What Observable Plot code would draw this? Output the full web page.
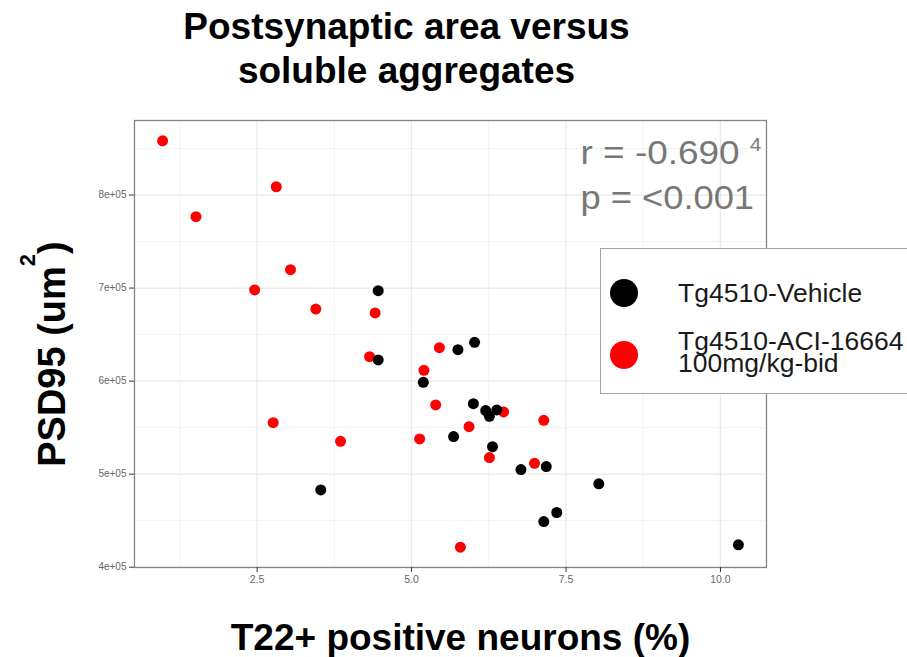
<!DOCTYPE html>
<html>
<head>
<meta charset="utf-8">
<script src="https://cdn.jsdelivr.net/npm/d3@7"></script>
<script src="https://cdn.jsdelivr.net/npm/@observablehq/plot@0.6"></script>
<style>
  html, body { margin: 0; padding: 0; background: #fff; }
  body { font-family: "Liberation Sans", Arial, sans-serif; }
  #wrap { position: relative; width: 907px; height: 657px; overflow: hidden; background: #fff; }
  #title { height: 100px; box-sizing: border-box; padding-top: 5px; width: 813px;
           text-align: center; font-weight: bold; font-size: 37px; line-height: 44px; color: #000; }
  #chart svg { display: block; }
  #legend { position: absolute; left: 600px; top: 248px; width: 330px; height: 144px;
            border: 1px solid #a3a3a3; background: #fff; }
  #legend .swatch { position: absolute; width: 28px; height: 28px; border-radius: 50%; }
  #legend .lab { position: absolute; left: 77px; font-size: 26.5px; line-height: 22px;
                 color: #1a1a1a; white-space: pre; }
</style>
</head>
<body>
<div id="wrap">
  <div id="title"></div>
  <div id="chart"></div>
  <div id="legend"></div>
</div>
<script>
// Chart text
const titleLines = ["Postsynaptic area versus", "soluble aggregates"];
const xTitle = "T22+ positive neurons (%)";
const yTitleParts = ["PSD95 (um", "2", ")"];
const statLines = ["r = -0.690", "p = <0.001"];
const statSup = "4";

// Groups and colours
const groupNames = ["Tg4510-Vehicle", "Tg4510-ACI-16664\n100mg/kg-bid"];
const groupColors = ["#000000", "#ff0000"];

// Tg4510-Vehicle: T22+ positive neurons (%) and PSD95 area (um^2)
const vehicleX = [4.46, 5.75, 6.02, 4.46, 5.19, 6.00, 6.20, 6.38, 6.26, 5.68, 6.31, 6.77, 7.18, 3.53, 8.03, 7.14, 7.35, 10.29];
const vehicleY = [697200, 633800, 641700, 622800, 598700, 575800, 568300, 569100, 562200, 540400, 529600, 504900, 508200, 483100, 489600, 449100, 458800, 424100];

// Tg4510-ACI-16664 100mg/kg-bid
const treatedX = [0.97, 1.51, 2.81, 3.04, 2.46, 3.45, 4.41, 5.45, 4.32, 5.20, 5.39, 6.49, 7.14, 2.76, 5.93, 3.85, 5.13, 6.26, 6.99, 5.79];
const treatedY = [858300, 776700, 808900, 719800, 698000, 677500, 673300, 636000, 626300, 611600, 574400, 566900, 557900, 555400, 551100, 535300, 537900, 517800, 511700, 421500];

// Axis ticks and labels
const xTicks = [2.5, 5, 7.5, 10];
const xTickLabels = ["2.5", "5.0", "7.5", "10.0"];
const xMinorTicks = [1.25, 3.75, 6.25, 8.75];
const yTicks = [400000, 500000, 600000, 700000, 800000];
const yTickLabels = ["4e+05", "5e+05", "6e+05", "7e+05", "8e+05"];
const yMinorTicks = [450000, 550000, 650000, 750000, 850000];

const xDomain = [0.515, 10.745];
const yDomain = [399700, 880100];

const vehicle = vehicleX.map((x, i) => ({x, y: vehicleY[i]}));
const treated = treatedX.map((x, i) => ({x, y: treatedY[i]}));
const xLabelOf = new Map(xTicks.map((t, i) => [t, xTickLabels[i]]));
const yLabelOf = new Map(yTicks.map((t, i) => [t, yTickLabels[i]]));

// Title
const title = document.getElementById("title");
titleLines.forEach(line => {
  const d = document.createElement("div");
  d.textContent = line;
  title.appendChild(d);
});

const font = "'Liberation Sans', Arial, sans-serif";

const plot = Plot.plot({
  width: 907,
  height: 557,
  marginTop: 20,
  marginLeft: 134,
  marginRight: 141,
  marginBottom: 90,
  style: {fontFamily: font, background: "white"},
  x: {domain: xDomain},
  y: {domain: yDomain},
  marks: [
    Plot.gridX(xMinorTicks, {stroke: "#f1f1f1", strokeOpacity: 1, strokeWidth: 0.9}),
    Plot.gridY(yMinorTicks, {stroke: "#f1f1f1", strokeOpacity: 1, strokeWidth: 0.9}),
    Plot.gridX(xTicks, {stroke: "#e9e9e9", strokeOpacity: 1, strokeWidth: 1.3}),
    Plot.gridY(yTicks, {stroke: "#e9e9e9", strokeOpacity: 1, strokeWidth: 1.3}),
    Plot.dot(treated, {x: "x", y: "y", r: 5.5, fill: groupColors[1]}),
    Plot.dot(vehicle, {x: "x", y: "y", r: 5.5, fill: groupColors[0]}),
    Plot.frame({stroke: "#858585", strokeWidth: 1.3}),
    Plot.axisX(xTicks, {tickFormat: d => xLabelOf.get(d), tickSize: 5, tickPadding: 3,
      fontSize: 10.5, stroke: "#333", fill: "#666", label: null}),
    Plot.axisY(yTicks, {tickFormat: d => yLabelOf.get(d), tickSize: 5, tickPadding: 3,
      fontSize: 10, stroke: "#333", fill: "#666", label: null}),
    Plot.text([xTitle], {text: d => d, frameAnchor: "bottom", textAnchor: "middle", lineAnchor: "bottom",
      dx: 10, dy: 82, fontSize: 37, fontWeight: "bold", fill: "#000"}),
    Plot.text([yTitleParts.join("")], {text: d => d, frameAnchor: "left", textAnchor: "middle",
      lineAnchor: "bottom", rotate: -90, dx: -70, dy: 10, fontSize: 38, fontWeight: "bold", fill: "#000"}),
    Plot.text([statLines[0] + " " + statSup], {text: d => d, frameAnchor: "top-left", textAnchor: "start",
      lineAnchor: "bottom", dx: 446, dy: 43, fontSize: 33, fill: "#777"}),
    Plot.text([statLines[1]], {text: d => d, frameAnchor: "top-left", textAnchor: "start",
      lineAnchor: "bottom", dx: 446, dy: 88, fontSize: 33, fill: "#777"})
  ]
});
document.getElementById("chart").appendChild(plot);

// Superscripts and wide annotation lettering
function widen(el, s) {
  const t = el.getAttribute("transform");
  if (t) el.setAttribute("transform", t + ` scale(${s},1)`);
  else {
    const x = +el.getAttribute("x") || 0, y = +el.getAttribute("y") || 0;
    el.removeAttribute("x"); el.removeAttribute("y");
    el.setAttribute("transform", `translate(${x},${y}) scale(${s},1)`);
  }
}
d3.select(plot).selectAll("text").each(function() {
  const el = d3.select(this);
  const txt = this.textContent;
  if (txt === yTitleParts.join("")) {
    el.text(null);
    el.append("tspan").text(yTitleParts[0]);
    el.append("tspan").attr("dy", -30).attr("font-size", 22).text(yTitleParts[1]);
    el.append("tspan").attr("dy", 30).text(yTitleParts[2]);
  } else if (txt === statLines[0] + " " + statSup) {
    el.text(null);
    el.append("tspan").text(statLines[0] + " ");
    el.append("tspan").attr("dy", -13).attr("font-size", 18).text(statSup);
    widen(this, 1.12);
  } else if (txt === statLines[1]) {
    widen(this, 1.1);
  }
});

// Legend
const legend = document.getElementById("legend");
const swatchTops = [293 - 14 - 249, 355 - 14 - 249];
const labelTops = [32.5, 80.8];
groupNames.forEach((name, i) => {
  const sw = document.createElement("span");
  sw.className = "swatch";
  sw.style.left = (624 - 14 - 601) + "px";
  sw.style.top = swatchTops[i] + "px";
  sw.style.background = groupColors[i];
  legend.appendChild(sw);
  const lab = document.createElement("div");
  lab.className = "lab";
  lab.style.top = labelTops[i] + "px";
  lab.textContent = name;
  legend.appendChild(lab);
});
</script>
</body>
</html>
